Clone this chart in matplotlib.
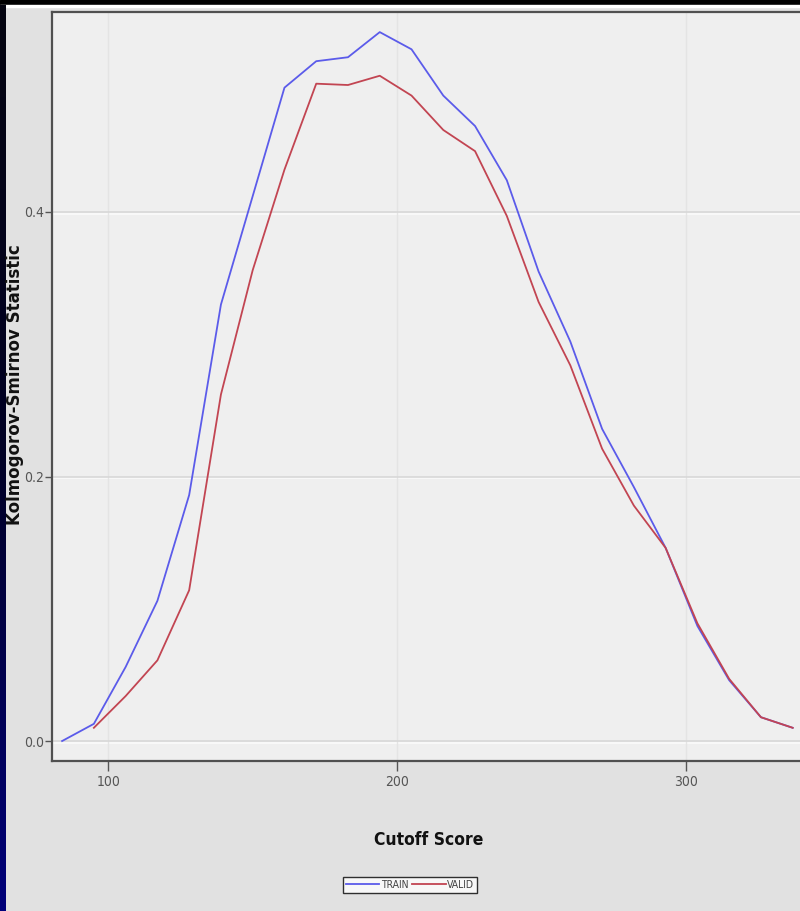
import matplotlib
matplotlib.use("Agg")
import matplotlib.pyplot as plt
import numpy as np

# cutoff scores and KS statistic
score_train = [84, 95, 106, 117, 128, 139, 150, 161, 172, 183, 194, 205,
               216, 227, 238, 249, 260, 271, 282, 293, 304, 315, 326, 337]
ks_train = [0.000, 0.013, 0.056, 0.106, 0.186, 0.330, 0.412, 0.494, 0.514,
            0.517, 0.536, 0.523, 0.488, 0.465, 0.424, 0.355, 0.302, 0.236,
            0.192, 0.146, 0.087, 0.046, 0.018, 0.010]

score_valid = [95, 106, 117, 128, 139, 150, 161, 172, 183, 194, 205,
               216, 227, 238, 249, 260, 271, 282, 293, 304, 315, 326, 337]
ks_valid = [0.010, 0.034, 0.061, 0.114, 0.262, 0.356, 0.432, 0.497, 0.496,
            0.503, 0.488, 0.462, 0.446, 0.397, 0.332, 0.284, 0.221, 0.178,
            0.146, 0.089, 0.047, 0.018, 0.010]

x_ticks = [100, 200, 300]
y_ticks = [0.0, 0.2, 0.4]
y_ticklabels = ["0.0", "0.2", "0.4"]

W, H = 800, 911
narrow = dict(family="DejaVu Sans", stretch="condensed")

fig = plt.figure(figsize=(W / 100, H / 100), dpi=100, facecolor="#e1e1e1")

# frame decorations: black band + white line on top, dark stripe on the left
fig.add_artist(plt.Rectangle((0, 1 - 5 / H), 1, 5 / H, transform=fig.transFigure,
                             color="black", zorder=0))
fig.add_artist(plt.Rectangle((0, 1 - 7 / H), 1, 2 / H, transform=fig.transFigure,
                             color="white", zorder=0))
strip = fig.add_axes([0, 0, 6 / W, 1 - 5 / H])
grad = np.linspace(0, 1, 256).reshape(-1, 1)
strip.imshow(grad, aspect="auto", cmap=matplotlib.colors.LinearSegmentedColormap.from_list(
    "edge", ["#050510", "#000025", "#00007a"]), origin="upper")
strip.axis("off")

ax = fig.add_axes([52 / W, 150 / H, 1 - 52 / W + 0.01, (761 - 12) / H])
ax.set_facecolor("#efefef")

ax.plot(score_train, ks_train, color="#5b5bea", lw=1.3, label="TRAIN")
ax.plot(score_valid, ks_valid, color="#c24552", lw=1.3, label="VALID")

ax.set_xlim(80.5, 342.3)
ax.set_ylim(-0.0151, 0.5512)
ax.set_xticks(x_ticks)
ax.set_xticklabels([str(t) for t in x_ticks], fontsize=10, color="#555555", **narrow)
ax.set_yticks(y_ticks)
ax.set_yticklabels(y_ticklabels, fontsize=10, color="#555555", **narrow)
ax.tick_params(axis="x", direction="out", length=7, width=1, color="#555555", pad=3)
ax.tick_params(axis="y", direction="out", length=5, width=1, color="#555555", pad=1)

# vertical grid is faint, horizontal grid a bit stronger with a light edge
ax.grid(True, axis="x", color="#e4e4e4", lw=1.0)
for yv in y_ticks:
    ax.axhline(yv - 0.0012, color="#fafafa", lw=1.2, zorder=0.5)
ax.grid(True, axis="y", color="#d6d6d6", lw=1.1)
ax.set_axisbelow(True)
for side in ["left", "bottom", "top"]:
    ax.spines[side].set_color("#505050")
    ax.spines[side].set_linewidth(1.6)
ax.spines["right"].set_visible(False)

fig.text(429 / W, 1 - 840 / H, "Cutoff Score", fontweight="bold",
         fontsize=12.5, ha="center", va="center", color="#111111", **narrow)
fig.text(15 / W, 1 - 385 / H, "Kolmogorov-Smirnov Statistic", family="DejaVu Sans",
         fontweight="bold", fontsize=12, rotation=90, ha="center", va="center",
         color="#111111")

leg = fig.legend(loc="center", bbox_to_anchor=(410 / W, 1 - 885 / H), ncol=2,
                 frameon=True, fancybox=False, handlelength=3.2, handletextpad=0.15,
                 columnspacing=0.4, borderpad=0.25, borderaxespad=0,
                 prop={"family": "DejaVu Sans", "stretch": "condensed", "size": 7.5})
leg.get_frame().set_edgecolor("black")
leg.get_frame().set_linewidth(1.0)
for t in leg.get_texts():
    t.set_color("#444444")

fig.savefig("out.png", dpi=100, facecolor=fig.get_facecolor())
